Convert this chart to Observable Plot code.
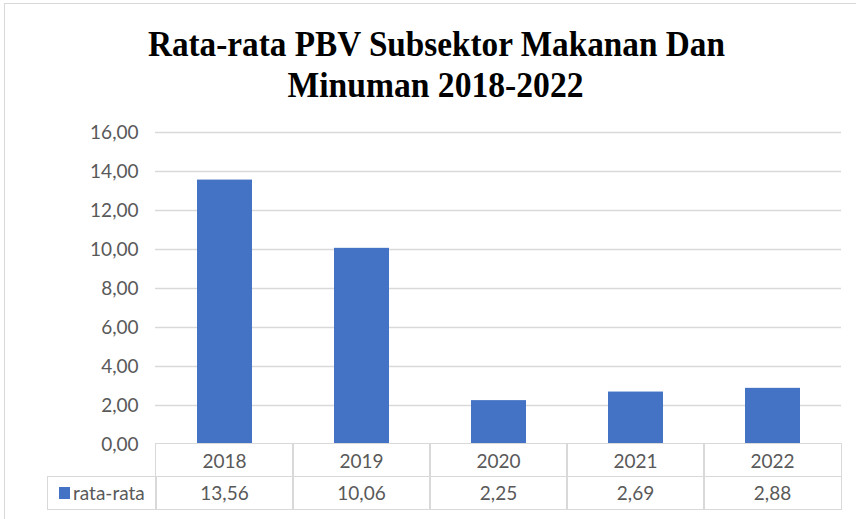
<!DOCTYPE html>
<html>
<head>
<meta charset="utf-8">
<script src="https://cdn.jsdelivr.net/npm/d3@7"></script>
<script src="https://cdn.jsdelivr.net/npm/@observablehq/plot@0.6"></script>
<style>
  html, body { margin: 0; padding: 0; background: #fff; overflow: hidden; }
  #wrap { position: relative; width: 856px; height: 519px; overflow: hidden; font-family: Lato, "Open Sans", sans-serif; }
  #frame { position: absolute; left: 4px; top: 3px; width: 900px; height: 600px; border: 1px solid #d9d9d9; box-sizing: border-box; }
  #title { position: absolute; left: 8px; top: 24px; width: 856px; text-align: center; font-family: "Liberation Serif", "Times New Roman", serif; font-weight: bold; font-size: 36px; line-height: 41px; color: #000; }
  #title span { display: inline-block; white-space: nowrap; transform-origin: center; }
  #chart { position: absolute; left: 0; top: 0; }
  .cell { position: absolute; box-sizing: border-box; border: 1.5px solid #d9d9d9; color: #595959; font-size: 19px; display: flex; align-items: center; justify-content: center; }
  .sw { display: inline-block; width: 11px; height: 12px; background: #4472C4; margin-right: 3px; }
</style>
</head>
<body>
<div id="wrap">
  <div id="frame"></div>
  <div id="title"><span id="t1">Rata-rata PBV Subsektor Makanan Dan</span><br><span id="t2">Minuman 2018-2022</span></div>
  <div id="chart"></div>
  <div id="table"></div>
</div>
<script>
const years = ["2018", "2019", "2020", "2021", "2022"];
const values = [13.56, 10.06, 2.25, 2.69, 2.88];
const yTicks = [0, 2, 4, 6, 8, 10, 12, 14, 16];
const seriesName = "rata-rata";

const data = years.map((y, i) => ({year: y, value: values[i]}));
const fmt = d => d.toFixed(2).replace(".", ",");

const plot = Plot.plot({
  width: 856,
  height: 450,
  marginTop: 132,
  marginBottom: 6,
  marginLeft: 155,
  marginRight: 15,
  style: {fontFamily: "Lato, 'Open Sans', sans-serif", fontSize: "19px", color: "#595959", background: "transparent", overflow: "visible"},
  x: {domain: years, padding: 0, axis: null},
  y: {domain: [0, 16], axis: null},
  marks: [
    Plot.ruleY(yTicks.filter(d => d > 0), {stroke: "#d9d9d9", strokeWidth: 1.5}),
    Plot.axisY(yTicks, {tickSize: 0, tickPadding: 17, tickFormat: fmt, fill: "#595959", fontSize: 19, label: null}),
    Plot.barY(data, {x: "year", y: "value", fill: "#4472C4", insetLeft: 41, insetRight: 41})
  ]
});
document.getElementById("chart").appendChild(plot);

// Fit title lines
for (const [id, w] of [["t1", 577], ["t2", 296]]) {
  const el = document.getElementById(id);
  const ow = el.getBoundingClientRect().width;
  el.style.transform = `scaleX(${w / ow})`;
}

// Data table aligned with x scale
const xs = plot.scale("x");
const ys = plot.scale("y");
const step = xs.step;
const y0 = ys.apply(0);
const rowH = 32.5;
const table = document.getElementById("table");
function cell(left, top, w, h, html) {
  const d = document.createElement("div");
  d.className = "cell";
  d.style.left = left + "px";
  d.style.top = top + "px";
  d.style.width = w + "px";
  d.style.height = h + "px";
  d.innerHTML = html;
  table.appendChild(d);
}
years.forEach((y, i) => {
  const left = xs.apply(y);
  cell(left - 0.75, y0 - 0.75, step + 1.5, rowH + 1.5, y);
  cell(left - 0.75, y0 + rowH - 0.75, step + 1.5, rowH + 1.5, fmt(values[i]));
});
const firstLeft = xs.apply(years[0]);
cell(47, y0 + rowH - 0.75, firstLeft - 47 + 0.75, rowH + 1.5, `<span class="sw"></span>${seriesName}`);
</script>
</body>
</html>
